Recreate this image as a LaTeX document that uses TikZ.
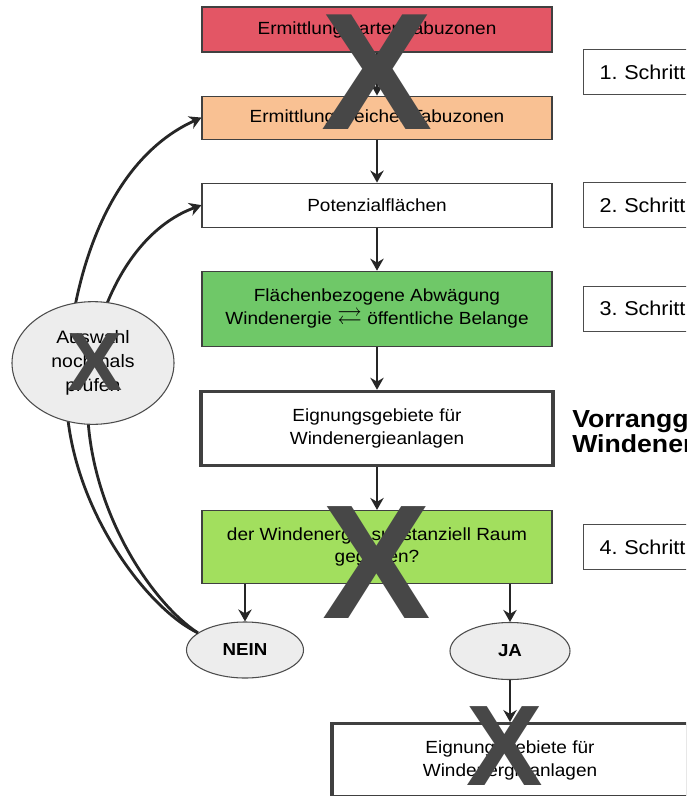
\documentclass[tikz,border=0pt]{standalone}
\usepackage{fontspec}
\usepackage{amssymb}
\usepackage{graphicx}
\setmainfont{Liberation Sans}[FakeStretch=1.08]
\newfontfamily\xfont{Liberation Sans}
\usetikzlibrary{arrows.meta, positioning, shapes.geometric}
\frenchspacing

\definecolor{hartred}{HTML}{E35665}
\definecolor{weichorange}{HTML}{F9C193}
\definecolor{abwgreen}{HTML}{6FC868}
\definecolor{fragegreen}{HTML}{A2DF5E}

\begin{document}
\begin{tikzpicture}[
    x=0.75pt, y=-0.75pt,
    node distance=32.25pt,
    every node/.style={font=\fontsize{13.2}{17}\selectfont, align=center},
    box/.style={rectangle, draw=black!75, line width=0.8pt, minimum width=262.5pt, minimum height=33pt},
    bigbox/.style={box, line width=2.4pt, minimum width=264pt},
    oval/.style={ellipse, draw=black!70, fill=black!7, line width=0.8pt},
    stepbox/.style={rectangle, draw=black!70, line width=0.9pt, anchor=west, align=left, text width=110pt, inner xsep=12pt, minimum height=33.75pt, font=\fontsize{15}{17}\selectfont},
    arrow/.style={-{Stealth[length=9pt, width=10pt]}, line width=2.1pt, draw=black!85},
    cross/.style={text=black!72, inner sep=0pt, font=\xfont\bfseries\fontsize{#1}{#1}\selectfont}
]
    \useasboundingbox (0,0) rectangle (686,796);
    \clip (0,0) rectangle (686,796);
    \fill[white] (0,0) rectangle (686,796);

    % main column
    \node[box, fill=hartred, minimum height=33.75pt] (hart) at (377,29.5) {Ermittlung harter Tabuzonen};
    \node[box, fill=weichorange, minimum height=32.25pt, below=of hart] (weich) {Ermittlung weicher Tabuzonen};
    \node[box, below=of weich] (pot) {Potenzialflächen};
    \node[box, fill=abwgreen, minimum height=56.25pt, below=of pot] (abw) {Flächenbezogene Abwägung\\Windenergie \scalebox{1.4}{$\rightleftarrows$} öffentliche Belange};
    \node[bigbox, minimum height=55.5pt, below=of abw] (eign) {Eignungsgebiete für\\Windenergieanlagen};
    \node[box, fill=fragegreen, minimum height=54.75pt, below=of eign] (frage) {der Windenergie substanziell Raum\\gegeben?};

    \node[oval, font=\bfseries\fontsize{13}{14}\selectfont, minimum width=87.75pt, minimum height=42pt] (nein) at (245,650) {NEIN};
    \node[oval, font=\bfseries\fontsize{13}{14}\selectfont, minimum width=90pt, minimum height=42.75pt] (ja) at (510,651) {JA};
    \node[bigbox, minimum width=267pt, minimum height=54.75pt, below=31.5pt of ja] (eign2) {Eignungsgebiete für\\Windenergieanlagen};

    \draw[arrow] (hart) -- (weich);
    \draw[arrow] (weich) -- (pot);
    \draw[arrow] (pot) -- (abw);
    \draw[arrow] (abw) -- (eign);
    \draw[arrow] (eign) -- (frage);
    \draw[arrow] (frage.south -| nein) -- (nein);
    \draw[arrow] (frage.south -| ja) -- (ja);
    \draw[arrow] (ja) -- (eign2);

    % back loops behind the ellipse
    \draw[arrow] (nein.160) .. controls (150,610) and (80,520) .. (68,420)
        .. controls (60,340) and (85,170) .. (weich.west);
    \draw[arrow] (nein.160) .. controls (155,605) and (95,520) .. (88,420)
        .. controls (82,340) and (120,235) .. (pot.west);

    \node[oval, minimum width=121.5pt, minimum height=92pt, font=\fontsize{13.5}{18}\selectfont] (auswahl) at (93,363) {Auswahl\\nochmals\\prüfen};

    % steps on the right
    \node[stepbox] (s1) at (583,72) {1. Schritt};
    \node[stepbox] (s2) at (s1.west |- pot) {2. Schritt};
    \node[stepbox] (s3) at (s1.west |- abw) {3. Schritt};
    \node[stepbox] (s4) at (s1.west |- frage) {4. Schritt};

    \node[anchor=west, align=left, inner sep=0pt, font=\bfseries\fontsize{18.5}{18.5}\selectfont] (vorrang) at (572,434) {Vorranggebiete für\\Windenergieanlagen};

    % crosses on top
    \node[cross=125] (x1) at (377,72) {X};
    \node[cross=122] (x2) at (377,563) {X};
    \node[cross=86] (x3) at (505,746) {X};
    \node[cross=62] (x4) at (95,362) {X};
\end{tikzpicture}
\end{document}
